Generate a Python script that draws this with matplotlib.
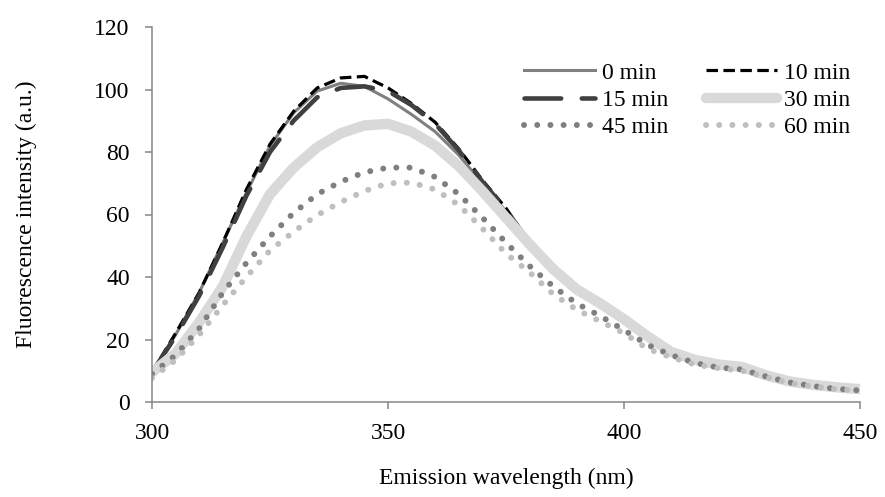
import matplotlib
matplotlib.use('Agg')
import matplotlib.pyplot as plt

plt.rcParams['font.family'] = 'Liberation Serif'
plt.rcParams['font.size'] = 17

# emission wavelength (nm)
wl = [300, 305, 310, 315, 320, 325, 330, 335, 340, 345, 350, 355, 360, 365, 370,
      375, 380, 385, 390, 395, 400, 405, 410, 415, 420, 425, 430, 435, 440, 445, 450]

# fluorescence intensity (a.u.) for each incubation time
min0 = [9.5, 21.5, 35, 51, 67, 82, 92.5, 99.5, 102, 101, 97, 92, 86.5, 79, 70,
        61, 50.5, 43, 36.5, 31, 26.5, 20.5, 15.5, 13, 11.5, 11, 8.5, 6.5, 5.5, 4.5, 4]
min10 = [9.5, 22, 35, 51, 68, 82.5, 93, 100.5, 103.7, 104.2, 100.5, 95.5, 89.5, 81, 71,
         62, 51, 43.5, 37, 31.5, 26.5, 20.5, 15.5, 13, 11.5, 11, 8.5, 6.5, 5.5, 4.5, 4]
min15 = [9.5, 21, 34, 49.5, 66, 80, 90, 97.5, 100.5, 101, 99.5, 95, 89, 80.5, 70.5,
         61.5, 51, 43.5, 37, 31.5, 26.5, 20.5, 15.5, 13, 11.5, 11, 8.5, 6.5, 5.5, 4.5, 4]
min30 = [9.5, 15.5, 25.5, 37, 53, 66.5, 75, 81.5, 86, 88.5, 89, 86.5, 82, 75.5, 67.5,
         59, 50.5, 42.5, 36, 31.5, 26.5, 21, 16, 13.5, 12, 11.2, 8.6, 6.6, 5.5, 4.7, 4.1]
min45 = [9, 15, 23.5, 35, 44.5, 53, 60.5, 66.5, 70.5, 73.5, 75, 75, 72, 66.5, 59,
         51, 43.5, 37, 31.5, 27.5, 23, 18.3, 15, 12.5, 11, 10.4, 8.2, 6.3, 5.1, 4.2, 3.7]
min60 = [7.7, 13.4, 21.5, 31, 40, 48.5, 54.5, 59.8, 64, 67.5, 70, 70.2, 68, 63, 55.5,
         47.5, 41.5, 34.5, 29.5, 25.8, 22, 17, 14.3, 12, 10.8, 10, 8, 6.1, 5, 4.1, 3.6]

fig = plt.figure(figsize=(8.85, 4.97), dpi=100)
ax = fig.add_axes([152/885, 1 - 402/497, 708/885, 375/497])

l0, = ax.plot(wl, min0, color='#808080', lw=2.2, label='0 min')
l10, = ax.plot(wl, min10, color='black', lw=2.3, ls=(0, (3.6, 1.7)), label='10 min')
l15, = ax.plot(wl, min15, color='#404040', lw=3.3, ls=(0, (8, 4.5)),
               dash_capstyle='round', label='15 min')
l30, = ax.plot(wl, min30, color='#d9d9d9', lw=7.5, solid_capstyle='round', label='30 min')
l45, = ax.plot(wl, min45, color='#7f7f7f', lw=4.3, ls=(0, (0.01, 2.2)),
               dash_capstyle='round', label='45 min')
l60, = ax.plot(wl, min60, color='#bfbfbf', lw=4.3, ls=(0, (0.01, 2.2)),
               dash_capstyle='round', label='60 min')

ax.set_xlim(300, 450)
ax.set_ylim(0, 120)
ax.set_xticks([300, 350, 400, 450])
ax.set_yticks(range(0, 121, 20))

for s in ['top', 'right']:
    ax.spines[s].set_visible(False)
for s in ['left', 'bottom']:
    ax.spines[s].set_color('#868686')
    ax.spines[s].set_linewidth(1.1)
ax.tick_params(axis='both', color='#868686', width=1.1, length=5, direction='out')
ax.tick_params(axis='y', pad=11)
ax.tick_params(axis='x', pad=10)

ax.set_xlabel('Emission wavelength (nm)', labelpad=17)
ax.set_ylabel('Fluorescence intensity (a.u.)', labelpad=41)

# legend filled row by row like the original
hs = [l0, l15, l45, l10, l30, l60]
ax.legend(hs, [h.get_label() for h in hs], ncol=2, frameon=False, loc='upper right',
          bbox_to_anchor=(850/885, 1 - 62/497), bbox_transform=fig.transFigure,
          borderaxespad=0, borderpad=0, handlelength=3.0, handletextpad=0.3,
          columnspacing=1.6, labelspacing=0.25)

fig.savefig('out.png', dpi=100)
